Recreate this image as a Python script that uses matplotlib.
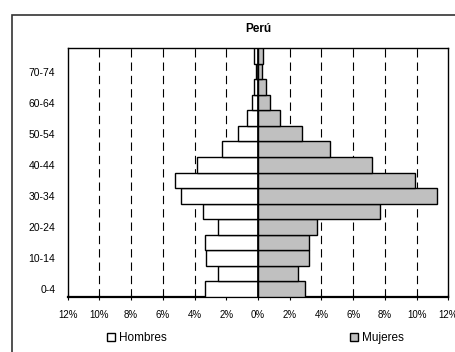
import numpy as np
import matplotlib.pyplot as plt
from matplotlib.patches import Rectangle, Patch

plt.rcParams['font.family'] = ['Liberation Sans', 'DejaVu Sans']

# grupos de edad, de 0-4 a 75-79
edades = ['0-4', '5-9', '10-14', '15-19', '20-24', '25-29', '30-34', '35-39',
          '40-44', '45-49', '50-54', '55-59', '60-64', '65-69', '70-74', '75-79']
hombres = [3.32, 2.50, 3.26, 3.32, 2.50, 3.49, 4.88, 5.23,
           3.85, 2.29, 1.28, 0.69, 0.38, 0.27, 0.15, 0.23]
mujeres = [2.98, 2.52, 3.22, 3.22, 3.74, 7.69, 11.31, 9.92,
           7.19, 4.52, 2.77, 1.39, 0.78, 0.48, 0.25, 0.32]
ticks_x = [-12, -10, -8, -6, -4, -2, 0, 2, 4, 6, 8, 10, 12]

fig = plt.figure(figsize=(4.56, 3.52), dpi=100)
ax = fig.add_axes([67.7 / 456, 1 - 296.7 / 352, (448.3 - 67.7) / 456, (296.7 - 48.3) / 352])

y = np.arange(len(edades))
ax.barh(y, [-h for h in hombres], height=1.0, color='white', edgecolor='black', linewidth=1.0, zorder=3)
ax.barh(y, mujeres, height=1.0, color='#c0c0c0', edgecolor='black', linewidth=1.0, zorder=3)

# lineas de guia discontinuas
for x in ticks_x:
    if x in (-12, 0, 12):
        continue
    ax.axvline(x, color='black', linestyle=(0, (7.5, 4.5)), linewidth=0.8, zorder=1)
ax.axvline(0, color='black', linewidth=1.2, zorder=4)

ax.set_xlim(-12, 12)
ax.set_ylim(-0.5, len(edades) - 0.5)
ax.set_xticks(ticks_x)
ax.set_xticklabels(['%d%%' % abs(t) for t in ticks_x], fontsize=7)
ax.set_yticks(y[::2])
ax.set_yticklabels(edades[::2], fontsize=7.5)
ax.tick_params(axis='y', length=0, pad=9)
ax.tick_params(axis='x', direction='inout', length=5, width=0.8, pad=7)
for s in ax.spines.values():
    s.set_linewidth(1.0)
ax.spines['bottom'].set_linewidth(1.6)

fig.text(258 / 456, 1 - 29 / 352, 'Perú', ha='center', va='center', fontsize=8.5, fontweight='bold')

# marco exterior
fig.patches.append(Rectangle((12 / 456, -0.1), 1.0, 1.1 - 14.7 / 352, transform=fig.transFigure,
                             fill=False, edgecolor='#333333', linewidth=1.2))

leg1 = fig.legend(handles=[Patch(facecolor='white', edgecolor='black', label='Hombres')],
                  loc='center left', bbox_to_anchor=(101 / 456, 1 - 338 / 352), frameon=False,
                  fontsize=8.5, handlelength=0.7, handleheight=0.7, handletextpad=0.35, borderpad=0)
leg2 = fig.legend(handles=[Patch(facecolor='#c0c0c0', edgecolor='black', label='Mujeres')],
                  loc='center left', bbox_to_anchor=(344 / 456, 1 - 338 / 352), frameon=False,
                  fontsize=8.5, handlelength=0.7, handleheight=0.7, handletextpad=0.35, borderpad=0)

fig.savefig('out.png', dpi=100)
